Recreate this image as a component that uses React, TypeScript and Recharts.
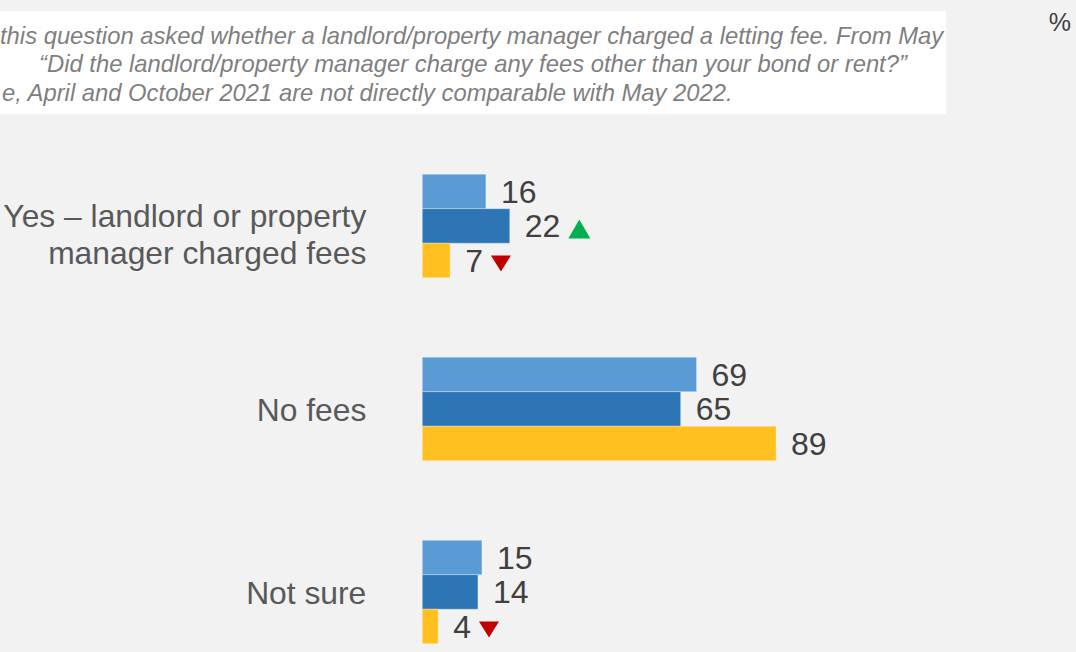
import React from "react";
import { Bar, BarChart, LabelList, XAxis, YAxis } from "recharts";

// categories and series
const categories = ["Yes – landlord or property manager charged fees", "No fees", "Not sure"];
const categoryLines = [["Yes – landlord or property", "manager charged fees"], ["No fees"], ["Not sure"]];
const april2021 = [16, 69, 15];
const october2021 = [22, 65, 14];
const may2022 = [7, 89, 4];
// significance markers shown next to the labels
const october2021Change = ["up", null, null];
const may2022Change = ["down", null, "down"];

// the note is cropped on the left in the reference, only the visible part is kept
const noteLines = [
  "this question asked whether a landlord/property manager charged a letting fee. From May",
  "“Did the landlord/property manager charge any fees other than your bond or rent?”",
  "e, April and October 2021 are not directly comparable with May 2022.",
];

const data = categories.map((name, i) => ({
  name,
  apr21: april2021[i],
  oct21: october2021[i],
  may22: may2022[i],
}));

const FONT = '"Liberation Sans", Arial, sans-serif';
const VALUE_FS = 32;
const CAT_FS = 31.8;
const NOTE_FS = 23.8;

function CategoryTick({ x, y, payload, index }: any) {
  const lines = categoryLines[index] ?? [String(payload.value)];
  const tx = x - 56;
  if (lines.length === 1) {
    return (
      <text x={tx} y={y + 12} textAnchor="end" fontSize={CAT_FS} fill="#595959" fontFamily={FONT}>
        {lines[0]}
      </text>
    );
  }
  return (
    <text textAnchor="end" fontSize={CAT_FS} fill="#595959" fontFamily={FONT}>
      <tspan x={tx} y={y + 1}>{lines[0]}</tspan>
      <tspan x={tx} y={y + 38}>{lines[1]}</tspan>
    </text>
  );
}

function makeLabel(changes: (string | null)[]) {
  return function ValueLabel(props: any) {
    const { x, y, width, height, value, index } = props;
    const tx = x + width + 15;
    const base = y + height / 2 + 0.36 * VALUE_FS;
    const change = changes[index];
    const endX = tx + String(value).length * 0.556 * VALUE_FS + 8;
    let marker = null;
    if (change === "up") {
      marker = (
        <polygon
          points={`${endX},${base + 1} ${endX + 22},${base + 1} ${endX + 11},${base - 18}`}
          fill="#00b050"
        />
      );
    } else if (change === "down") {
      marker = (
        <polygon
          points={`${endX},${base - 16.5} ${endX + 20},${base - 16.5} ${endX + 10},${base - 0.5}`}
          fill="#c00000"
        />
      );
    }
    return (
      <g>
        <text x={tx} y={base} fontSize={VALUE_FS} fill="#404040" fontFamily={FONT}>
          {value}
        </text>
        {marker}
      </g>
    );
  };
}

export default function App() {
  return (
    <div
      style={{
        position: "absolute",
        left: 0,
        top: 0,
        width: 1076,
        height: 652,
        overflow: "hidden",
        background: "#f2f2f2",
        fontFamily: FONT,
      }}
    >
      <div style={{ position: "absolute", left: 0, top: 0 }}>
        <BarChart
          width={1076}
          height={700}
          data={data}
          layout="vertical"
          margin={{ top: 134.2, right: 256.2, bottom: 16.8, left: 0 }}
          barGap={0}
          barSize={34.5}
        >
          <XAxis type="number" domain={[0, 100]} hide />
          <YAxis
            type="category"
            dataKey="name"
            width={422.3}
            axisLine={false}
            tickLine={false}
            tickSize={0}
            tickMargin={0}
            interval={0}
            tick={<CategoryTick />}
          />
          <Bar dataKey="apr21" name="April 2021" fill="#5b9bd5" stroke="#ffffff" strokeOpacity={0.3} isAnimationActive={false}>
            <LabelList dataKey="apr21" content={makeLabel([null, null, null])} />
          </Bar>
          <Bar dataKey="oct21" name="October 2021" fill="#2e75b6" stroke="#ffffff" strokeOpacity={0.3} isAnimationActive={false}>
            <LabelList dataKey="oct21" content={makeLabel(october2021Change)} />
          </Bar>
          <Bar dataKey="may22" name="May 2022" fill="#ffc020" stroke="#ffffff" strokeOpacity={0.3} isAnimationActive={false}>
            <LabelList dataKey="may22" content={makeLabel(may2022Change)} />
          </Bar>
        </BarChart>
      </div>
      <svg width={1076} height={652} style={{ position: "absolute", left: 0, top: 0, pointerEvents: "none" }}>
        <rect x={-20} y={11} width={966} height={103.3} fill="#ffffff" />
        <text x={0} y={43.5} fontSize={NOTE_FS} fontStyle="italic" fill="#7f7f7f" fontFamily={FONT}>
          {noteLines[0]}
        </text>
        <text x={473} y={72} textAnchor="middle" fontSize={NOTE_FS} fontStyle="italic" fill="#7f7f7f" fontFamily={FONT}>
          {noteLines[1]}
        </text>
        <text x={2} y={100.5} fontSize={NOTE_FS} fontStyle="italic" fill="#7f7f7f" fontFamily={FONT}>
          {noteLines[2]}
        </text>
        <text x={1071} y={31} textAnchor="end" fontSize={25} fill="#404040" fontFamily={FONT}>
          %
        </text>
      </svg>
    </div>
  );
}
